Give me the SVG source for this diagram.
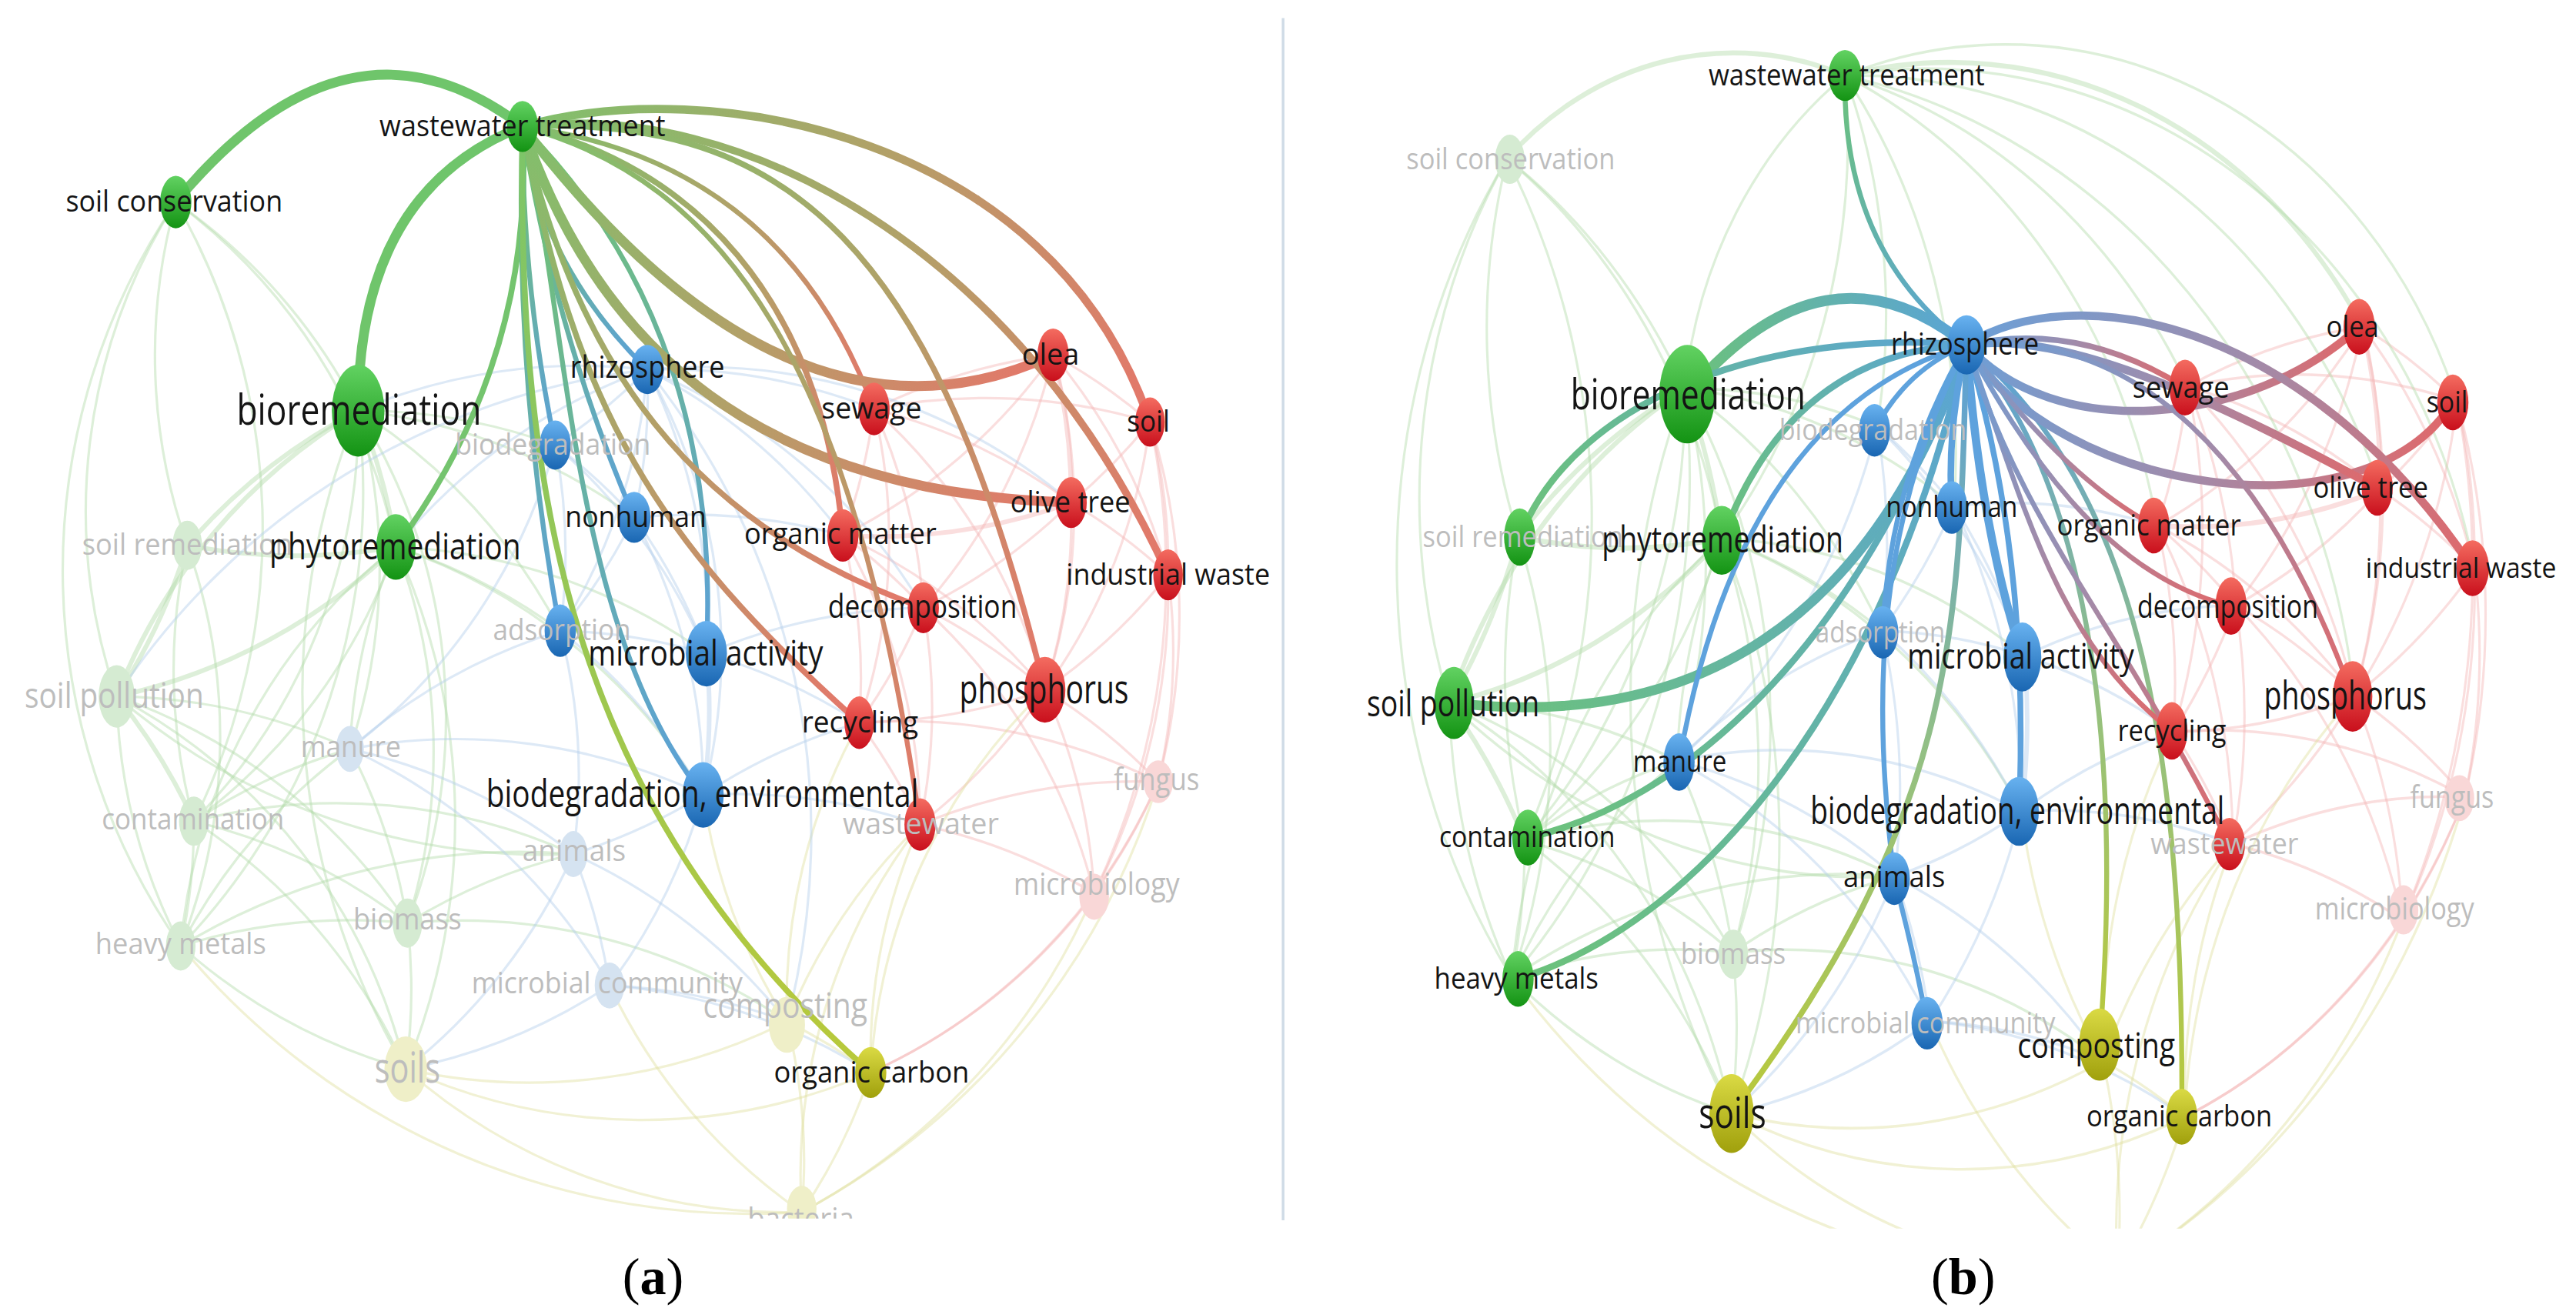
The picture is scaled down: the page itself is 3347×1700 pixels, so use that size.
<svg xmlns="http://www.w3.org/2000/svg" width="3347" height="1700" viewBox="0 0 3347 1700">
<defs>
<style>
.m path{fill:none;stroke-opacity:.45;stroke-width:1.5}
.mg{stroke:#b3dbab}.mb{stroke:#b3cfea}.mr{stroke:#f5b5b5}.my{stroke:#e0e0a0}
.m path.w2{stroke-width:2.8}
.hl path{fill:none;stroke-linecap:round}
.node text{font-family:"Open Sans","Noto Sans","DejaVu Sans",sans-serif;text-anchor:middle;fill:#141414}
.node text.f{fill:#bdbdbd}
.G{fill:url(#ng)}.B{fill:url(#nb)}.R{fill:url(#nr)}.Y{fill:url(#ny)}
.fG{fill:#d5ebd2}.fB{fill:#d5e3f1}.fR{fill:#f9d7d7}.fY{fill:#efefc8}
.cap{font-family:"Liberation Serif",serif;font-size:32px;text-anchor:middle;fill:#000}
</style>
<linearGradient id="ng" x1="0" y1="0" x2="0" y2="1"><stop offset="0" stop-color="#62d262"/><stop offset="1" stop-color="#139313"/></linearGradient>
<linearGradient id="nb" x1="0" y1="0" x2="0" y2="1"><stop offset="0" stop-color="#68b2f0"/><stop offset="1" stop-color="#1966b2"/></linearGradient>
<linearGradient id="nr" x1="0" y1="0" x2="0" y2="1"><stop offset="0" stop-color="#f46c60"/><stop offset="1" stop-color="#c90f1c"/></linearGradient>
<linearGradient id="ny" x1="0" y1="0" x2="0" y2="1"><stop offset="0" stop-color="#dada44"/><stop offset="1" stop-color="#a0a00c"/></linearGradient>
<linearGradient id="tGB"><stop offset="0" stop-color="#74c46c"/><stop offset="1" stop-color="#5ba0d9"/></linearGradient>
<linearGradient id="tGR"><stop offset="0" stop-color="#80c06c"/><stop offset=".5" stop-color="#b3a068"/><stop offset="1" stop-color="#e5766a"/></linearGradient>
<linearGradient id="tGY"><stop offset="0" stop-color="#7cc56a"/><stop offset="1" stop-color="#b9c93a"/></linearGradient>
<linearGradient id="tBG"><stop offset="0" stop-color="#5aa4d6"/><stop offset="1" stop-color="#6cc27a"/></linearGradient>
<linearGradient id="tBR"><stop offset="0" stop-color="#6d9fd6"/><stop offset=".5" stop-color="#a38aa8"/><stop offset="1" stop-color="#e0686a"/></linearGradient>
<linearGradient id="tBY"><stop offset="0" stop-color="#5b9fd9"/><stop offset=".5" stop-color="#93c084"/><stop offset="1" stop-color="#b9c93a"/></linearGradient>
<linearGradient id="a4" href="#tGB" gradientUnits="userSpaceOnUse" x1="318" y1="77" x2="394" y2="225"/>
<linearGradient id="a5" href="#tGB" gradientUnits="userSpaceOnUse" x1="318" y1="77" x2="338" y2="271"/>
<linearGradient id="a6" href="#tGB" gradientUnits="userSpaceOnUse" x1="318" y1="77" x2="386" y2="315"/>
<linearGradient id="a7" href="#tGB" gradientUnits="userSpaceOnUse" x1="318" y1="77" x2="341" y2="384"/>
<linearGradient id="a8" href="#tGB" gradientUnits="userSpaceOnUse" x1="318" y1="77" x2="430" y2="398"/>
<linearGradient id="a9" href="#tGB" gradientUnits="userSpaceOnUse" x1="318" y1="77" x2="428" y2="484"/>
<linearGradient id="a10" href="#tGY" gradientUnits="userSpaceOnUse" x1="318" y1="77" x2="530" y2="653"/>
<linearGradient id="a11" href="#tGR" gradientUnits="userSpaceOnUse" x1="318" y1="77" x2="532" y2="249"/>
<linearGradient id="a12" href="#tGR" gradientUnits="userSpaceOnUse" x1="318" y1="77" x2="641" y2="216"/>
<linearGradient id="a13" href="#tGR" gradientUnits="userSpaceOnUse" x1="318" y1="77" x2="700" y2="257"/>
<linearGradient id="a14" href="#tGR" gradientUnits="userSpaceOnUse" x1="318" y1="77" x2="652" y2="306"/>
<linearGradient id="a15" href="#tGR" gradientUnits="userSpaceOnUse" x1="318" y1="77" x2="711" y2="350"/>
<linearGradient id="a16" href="#tGR" gradientUnits="userSpaceOnUse" x1="318" y1="77" x2="513" y2="326"/>
<linearGradient id="a17" href="#tGR" gradientUnits="userSpaceOnUse" x1="318" y1="77" x2="562" y2="370"/>
<linearGradient id="a18" href="#tGR" gradientUnits="userSpaceOnUse" x1="318" y1="77" x2="636" y2="420"/>
<linearGradient id="a19" href="#tGR" gradientUnits="userSpaceOnUse" x1="318" y1="77" x2="523" y2="440"/>
<linearGradient id="a20" href="#tGR" gradientUnits="userSpaceOnUse" x1="318" y1="77" x2="560" y2="502"/>
<linearGradient id="b1" href="#tBG" gradientUnits="userSpaceOnUse" x1="1197" y1="210" x2="1123" y2="46"/>
<linearGradient id="b2" href="#tBG" gradientUnits="userSpaceOnUse" x1="1197" y1="210" x2="1027" y2="240"/>
<linearGradient id="b3" href="#tBG" gradientUnits="userSpaceOnUse" x1="1197" y1="210" x2="925" y2="327"/>
<linearGradient id="b4" href="#tBG" gradientUnits="userSpaceOnUse" x1="1197" y1="210" x2="1048" y2="329"/>
<linearGradient id="b5" href="#tBG" gradientUnits="userSpaceOnUse" x1="1197" y1="210" x2="885" y2="428"/>
<linearGradient id="b7" href="#tBG" gradientUnits="userSpaceOnUse" x1="1197" y1="210" x2="930" y2="510"/>
<linearGradient id="b8" href="#tBG" gradientUnits="userSpaceOnUse" x1="1197" y1="210" x2="924" y2="596"/>
<linearGradient id="b16" href="#tBY" gradientUnits="userSpaceOnUse" x1="1197" y1="210" x2="1054" y2="678"/>
<linearGradient id="b17" href="#tBY" gradientUnits="userSpaceOnUse" x1="1197" y1="210" x2="1278" y2="636"/>
<linearGradient id="b18" href="#tBY" gradientUnits="userSpaceOnUse" x1="1197" y1="210" x2="1328" y2="680"/>
<linearGradient id="b19" href="#tBR" gradientUnits="userSpaceOnUse" x1="1197" y1="210" x2="1330" y2="236"/>
<linearGradient id="b20" href="#tBR" gradientUnits="userSpaceOnUse" x1="1197" y1="210" x2="1436" y2="199"/>
<linearGradient id="b21" href="#tBR" gradientUnits="userSpaceOnUse" x1="1197" y1="210" x2="1493" y2="245"/>
<linearGradient id="b22" href="#tBR" gradientUnits="userSpaceOnUse" x1="1197" y1="210" x2="1447" y2="297"/>
<linearGradient id="b23" href="#tBR" gradientUnits="userSpaceOnUse" x1="1197" y1="210" x2="1311" y2="320"/>
<linearGradient id="b24" href="#tBR" gradientUnits="userSpaceOnUse" x1="1197" y1="210" x2="1505" y2="346"/>
<linearGradient id="b25" href="#tBR" gradientUnits="userSpaceOnUse" x1="1197" y1="210" x2="1358" y2="369"/>
<linearGradient id="b26" href="#tBR" gradientUnits="userSpaceOnUse" x1="1197" y1="210" x2="1322" y2="445"/>
<linearGradient id="b27" href="#tBR" gradientUnits="userSpaceOnUse" x1="1197" y1="210" x2="1357" y2="514"/>
<linearGradient id="b28" href="#tBR" gradientUnits="userSpaceOnUse" x1="1197" y1="210" x2="1432" y2="424"/>
<clipPath id="clipA" clipPathUnits="userSpaceOnUse"><rect x="12" y="0" width="766" height="742"/></clipPath>
<clipPath id="clipB" clipPathUnits="userSpaceOnUse"><rect x="822" y="0" width="760" height="748"/></clipPath>
<g id="meshC" class="m">
<g class="mg">
<path d="M107 123A350 350 0 0 1 218 250"/><path d="M114 332A350 350 0 0 1 107 123"/><path d="M71 424A350 350 0 0 1 107 123"/><path d="M107 123A350 350 0 0 1 241 333"/><path d="M110 576A400 400 0 0 1 107 123"/><path d="M107 123A400 400 0 0 1 118 500"/>
<path class="w2" d="M218 250A350 350 0 0 1 241 333"/><path class="w2" d="M114 332A350 350 0 0 1 218 250"/><path class="w2" d="M71 424A350 350 0 0 1 218 250"/><path d="M218 250A350 350 0 0 1 118 500"/><path d="M218 250A400 400 0 0 1 110 576"/><path d="M218 250A350 350 0 0 1 248 562"/><path d="M218 250A350 350 0 0 1 213 456"/><path d="M247 651A450 450 0 0 1 218 250"/>
<path class="w2" d="M241 333A350 350 0 0 1 114 332"/><path class="w2" d="M241 333A350 350 0 0 1 71 424"/><path d="M241 333A350 350 0 0 1 118 500"/><path d="M110 576A350 350 0 0 1 241 333"/><path d="M241 333A350 350 0 0 1 248 562"/><path d="M213 456A350 350 0 0 1 241 333"/><path d="M241 333A400 400 0 0 1 247 651"/>
<path class="w2" d="M114 332A350 350 0 0 1 71 424"/><path d="M118 500A350 350 0 0 1 114 332"/><path d="M114 332A350 350 0 0 1 110 576"/><path class="w2" d="M71 424A350 350 0 0 1 118 500"/><path d="M110 576A350 350 0 0 1 71 424"/><path d="M71 424A350 350 0 0 1 248 562"/><path d="M71 424A350 350 0 0 1 247 651"/>
<path d="M118 500A350 350 0 0 1 110 576"/><path d="M118 500A350 350 0 0 1 248 562"/><path d="M118 500A350 350 0 0 1 213 456"/><path d="M118 500A350 350 0 0 1 247 651"/><path d="M110 576A350 350 0 0 1 248 562"/><path d="M110 576A350 350 0 0 0 247 651"/><path d="M248 562A350 350 0 0 1 247 651"/><path d="M213 456A350 350 0 0 1 248 562"/><path d="M248 562A350 350 0 0 1 349 520"/><path d="M248 562A350 350 0 0 1 479 622"/><path d="M71 424A350 350 0 0 1 213 456"/><path d="M110 576A350 350 0 0 1 213 456"/>
<path d="M218 250A350 350 0 0 1 338 271"/><path d="M218 250A350 350 0 0 1 386 315"/><path d="M218 250A350 350 0 0 1 341 384"/><path d="M241 333A350 350 0 0 1 341 384"/><path d="M241 333A350 350 0 0 1 428 484"/><path d="M241 333A350 350 0 0 1 430 398"/><path d="M71 424A400 400 0 0 0 349 520"/><path d="M110 576A400 400 0 0 1 349 520"/><path d="M118 500A350 350 0 0 1 349 520"/>
</g>
<g class="mb">
<path d="M338 271A350 350 0 0 1 386 315"/><path d="M338 271A350 350 0 0 1 341 384"/><path d="M338 271A350 350 0 0 1 430 398"/><path d="M386 315A350 350 0 0 1 430 398"/><path d="M386 315A350 350 0 0 1 341 384"/><path d="M341 384A350 350 0 0 1 430 398"/><path d="M341 384A350 350 0 0 1 428 484"/><path class="w2" d="M430 398A350 350 0 0 1 428 484"/><path d="M428 484A350 350 0 0 1 349 520"/><path d="M428 484A350 350 0 0 1 371 600"/><path d="M349 520A350 350 0 0 1 371 600"/><path d="M213 456A350 350 0 0 1 349 520"/><path d="M213 456A350 350 0 0 1 341 384"/><path d="M341 384A350 350 0 0 1 349 520"/><path d="M213 456A350 350 0 0 1 371 600"/><path d="M371 600A350 350 0 0 1 247 651"/><path d="M371 600A350 350 0 0 1 479 622"/><path d="M428 484A350 350 0 0 1 560 502"/><path d="M430 398A350 350 0 0 1 523 440"/><path d="M386 315A350 350 0 0 1 513 326"/><path d="M430 398A350 350 0 0 1 562 370"/><path d="M428 484A350 350 0 0 1 523 440"/><path d="M213 456A350 350 0 0 1 428 484"/><path d="M338 271A350 350 0 0 1 213 456"/><path d="M386 315A350 350 0 0 1 428 484"/><path d="M349 520A350 350 0 0 1 247 651"/><path d="M371 600A350 350 0 0 1 530 653"/><path d="M349 520A350 350 0 0 1 479 622"/>
</g>
<g class="mr">
<path d="M532 249A350 350 0 0 1 641 216"/><path d="M532 249A350 350 0 0 1 700 257"/><path d="M532 249A350 350 0 0 1 513 326"/><path d="M532 249A350 350 0 0 1 562 370"/><path d="M532 249A350 350 0 0 1 652 306"/><path d="M641 216A350 350 0 0 1 700 257"/><path class="w2" d="M641 216A350 350 0 0 1 652 306"/><path d="M641 216A350 350 0 0 1 711 350"/><path d="M641 216A350 350 0 0 1 513 326"/><path d="M641 216A350 350 0 0 1 636 420"/><path d="M641 216A350 350 0 0 1 562 370"/><path d="M700 257A350 350 0 0 1 711 350"/><path d="M700 257A350 350 0 0 1 652 306"/><path d="M700 257A400 400 0 0 1 705 476"/><path d="M700 257A350 350 0 0 1 636 420"/><path d="M652 306A350 350 0 0 1 711 350"/><path class="w2" d="M652 306A350 350 0 0 1 513 326"/><path d="M652 306A350 350 0 0 1 562 370"/><path d="M652 306A350 350 0 0 1 636 420"/><path d="M513 326A350 350 0 0 1 562 370"/><path d="M513 326A350 350 0 0 1 523 440"/><path d="M513 326A350 350 0 0 1 636 420"/><path d="M711 350A350 350 0 0 1 636 420"/><path d="M711 350A350 350 0 0 1 705 476"/><path d="M711 350A400 400 0 0 1 666 544"/><path d="M562 370A350 350 0 0 1 636 420"/><path d="M562 370A350 350 0 0 1 523 440"/><path d="M562 370A350 350 0 0 1 560 502"/><path d="M636 420A350 350 0 0 1 523 440"/><path d="M636 420A350 350 0 0 1 560 502"/><path d="M636 420A350 350 0 0 1 705 476"/><path d="M636 420A350 350 0 0 1 666 544"/><path d="M523 440A350 350 0 0 1 560 502"/><path d="M560 502A350 350 0 0 1 705 476"/><path d="M560 502A350 350 0 0 1 666 544"/><path d="M705 476A350 350 0 0 1 666 544"/><path d="M532 249A350 350 0 0 1 636 420"/><path d="M532 249A350 350 0 0 1 523 440"/><path d="M700 257A450 450 0 0 1 666 544"/><path d="M666 544A350 350 0 0 1 530 653"/><path d="M705 476A350 350 0 0 1 530 653"/><path d="M562 370A350 350 0 0 1 666 544"/><path d="M523 440A350 350 0 0 1 705 476"/><path d="M513 326A350 350 0 0 1 560 502"/>
</g>
<g class="my">
<path d="M247 651A350 350 0 0 0 479 622"/><path d="M247 651A350 350 0 0 0 530 653"/><path d="M247 651A350 350 0 0 0 488 738"/><path d="M479 622A350 350 0 0 1 530 653"/><path d="M479 622A350 350 0 0 1 488 738"/><path d="M530 653A350 350 0 0 1 488 738"/><path d="M488 738A400 400 0 0 0 666 544"/><path d="M488 738A450 450 0 0 0 705 476"/><path d="M488 738A350 350 0 0 1 560 502"/><path d="M479 622A350 350 0 0 1 560 502"/><path d="M530 653A350 350 0 0 1 560 502"/><path d="M479 622A350 350 0 0 1 523 440"/><path d="M110 576A450 450 0 0 0 488 738"/><path d="M488 738A350 350 0 0 1 371 600"/><path d="M530 653A350 350 0 0 1 636 420"/><path d="M479 622A350 350 0 0 1 428 484"/>
</g>
</g>
<g id="meshRz" class="m"><g class="mb">
<path d="M394 225A350 350 0 0 1 338 271"/><path d="M394 225A350 350 0 0 1 386 315"/><path d="M394 225A350 350 0 0 1 430 398"/><path d="M394 225A350 350 0 0 1 341 384"/><path d="M218 250A350 350 0 0 1 394 225"/><path d="M394 225A350 350 0 0 1 532 249"/><path d="M394 225A350 350 0 0 1 513 326"/><path d="M394 225A350 350 0 0 1 562 370"/><path d="M394 225A350 350 0 0 1 428 484"/><path d="M71 424A450 450 0 0 1 394 225"/><path d="M241 333A350 350 0 0 1 394 225"/><path d="M394 225A350 350 0 0 1 652 306"/><path d="M394 225A450 450 0 0 1 479 622"/>
</g></g>
<g id="meshWt" class="m"><g class="mg">
<path class="w2" d="M107 123A200 200 0 0 1 318 77"/><path d="M218 250A250 250 0 0 1 318 77"/><path d="M318 77A350 350 0 0 1 241 333"/><path d="M318 77A350 350 0 0 1 532 249"/><path class="w2" d="M318 77A300 300 0 0 1 641 216"/><path d="M318 77A300 300 0 0 1 700 257"/><path d="M318 77A350 350 0 0 1 513 326"/><path d="M318 77A350 350 0 0 1 711 350"/><path d="M318 77A400 400 0 0 1 636 420"/><path d="M318 77A350 350 0 0 1 338 271"/><path d="M318 77A350 350 0 0 1 386 315"/><path d="M318 77A350 350 0 0 1 652 306"/>
</g></g>
</defs>
<rect width="3347" height="1700" fill="#ffffff"/>
<g transform="scale(2.1346)">
<line x1="781" y1="11" x2="781" y2="743" stroke="#cfdbe6" stroke-width="1.6"/>
<text class="cap" x="397.5" y="788">(<tspan font-weight="bold">a</tspan>)</text>
<text class="cap" x="1195" y="788">(<tspan font-weight="bold">b</tspan>)</text>

<g id="panel-a" clip-path="url(#clipA)">
<g id="a-mesh"><use href="#meshC"/><use href="#meshRz"/></g>
<g id="a-links" class="hl">
<path d="M318 77Q212 -4 107 123" stroke="#6fc56b" stroke-width="6"/>
<path d="M318 77Q218 116 218 250" stroke="#6fc56b" stroke-width="6"/>
<path d="M318 77Q326 219 241 333" stroke="#74c46e" stroke-width="3.5"/>
<path d="M318 77Q328 160 394 225" stroke="url(#a4)" stroke-width="3"/>
<path d="M318 77Q318 175 338 271" stroke="url(#a5)" stroke-width="3"/>
<path d="M318 77Q338 204 386 315" stroke="url(#a6)" stroke-width="3"/>
<path d="M318 77Q313 235 341 384" stroke="url(#a7)" stroke-width="3"/>
<path d="M318 77Q440 200 430 398" stroke="url(#a8)" stroke-width="3"/>
<path d="M318 77C345 180 345 380 428 484" stroke="url(#a9)" stroke-width="3"/>
<path d="M318 77C315 300 345 490 530 653" stroke="url(#a10)" stroke-width="3.5"/>
<path d="M318 77Q476 98 532 249" stroke="url(#a11)" stroke-width="3"/>
<path d="M318 77Q481 290 641 216" stroke="url(#a12)" stroke-width="6"/>
<path d="M318 77C430 45 640 80 700 257" stroke="url(#a13)" stroke-width="5"/>
<path d="M318 77C360 200 450 300 652 306" stroke="url(#a14)" stroke-width="6"/>
<path d="M318 77C450 60 620 150 711 350" stroke="url(#a15)" stroke-width="4.5"/>
<path d="M318 77C420 100 500 180 513 326" stroke="url(#a16)" stroke-width="3.5"/>
<path d="M318 77C350 220 420 320 562 370" stroke="url(#a17)" stroke-width="3.5"/>
<path d="M318 77C480 70 570 150 636 420" stroke="url(#a18)" stroke-width="3.5"/>
<path d="M318 77C350 250 400 330 523 440" stroke="url(#a19)" stroke-width="3.5"/>
<path d="M318 77C440 110 520 220 560 502" stroke="url(#a20)" stroke-width="3"/>
</g>
<g id="a-nodes">
<g id="a-sr" class="node"><ellipse cx="114" cy="332" rx="9" ry="15" class="fG"/><text class="f" x="114" y="338" font-size="18" textLength="128" lengthAdjust="spacingAndGlyphs">soil remediation</text></g>
<g id="a-sp" class="node"><ellipse cx="71" cy="424" rx="11" ry="19" class="fG"/><text class="f" x="69.5" y="431" font-size="21" textLength="109" lengthAdjust="spacingAndGlyphs">soil pollution</text></g>
<g id="a-ct" class="node"><ellipse cx="118" cy="500" rx="9" ry="15" class="fG"/><text class="f" x="117.5" y="505" font-size="18" textLength="111" lengthAdjust="spacingAndGlyphs">contamination</text></g>
<g id="a-hm" class="node"><ellipse cx="110" cy="576" rx="9" ry="15" class="fG"/><text class="f" x="110" y="581" font-size="18" textLength="104" lengthAdjust="spacingAndGlyphs">heavy metals</text></g>
<g id="a-bm" class="node"><ellipse cx="248" cy="562" rx="9" ry="15" class="fG"/><text class="f" x="248" y="566" font-size="18" textLength="66" lengthAdjust="spacingAndGlyphs">biomass</text></g>
<g id="a-mn" class="node"><ellipse cx="213" cy="456" rx="8.5" ry="14" class="fB"/><text class="f" x="213.5" y="461" font-size="18" textLength="61" lengthAdjust="spacingAndGlyphs">manure</text></g>
<g id="a-an" class="node"><ellipse cx="349" cy="520" rx="8.5" ry="14" class="fB"/><text class="f" x="349.5" y="524" font-size="18" textLength="63" lengthAdjust="spacingAndGlyphs">animals</text></g>
<g id="a-mc" class="node"><ellipse cx="371" cy="600" rx="9" ry="14" class="fB"/><text class="f" x="369.5" y="605" font-size="18" textLength="165" lengthAdjust="spacingAndGlyphs">microbial community</text></g>
<g id="a-fg" class="node"><ellipse cx="705" cy="476" rx="9" ry="13" class="fR"/><text class="f" x="704" y="481" font-size="19" textLength="52" lengthAdjust="spacingAndGlyphs">fungus</text></g>
<g id="a-mb" class="node"><ellipse cx="666" cy="546" rx="9" ry="14" class="fR"/><text class="f" x="667.5" y="545" font-size="19" textLength="101" lengthAdjust="spacingAndGlyphs">microbiology</text></g>
<g id="a-sl" class="node"><ellipse cx="247" cy="651" rx="13" ry="20" class="fY"/><text class="f" x="248" y="659" font-size="26" textLength="40" lengthAdjust="spacingAndGlyphs">soils</text></g>
<g id="a-cp" class="node"><ellipse cx="479" cy="624" rx="11" ry="17" class="fY"/><text class="f" x="478" y="620" font-size="21" textLength="100" lengthAdjust="spacingAndGlyphs">composting</text></g>
<g id="a-ba" class="node"><ellipse cx="488" cy="736" rx="9" ry="14" class="fY"/><text class="f" x="487.5" y="748" font-size="18" textLength="65" lengthAdjust="spacingAndGlyphs">bacteria</text></g>
<g id="a-bd" class="node"><ellipse cx="338" cy="271" rx="9.5" ry="15" class="B"/><text class="f" x="336.5" y="277" font-size="18" textLength="119" lengthAdjust="spacingAndGlyphs">biodegradation</text></g>
<g id="a-ad" class="node"><ellipse cx="341" cy="384" rx="9.5" ry="16" class="B"/><text class="f" x="342" y="390" font-size="18" textLength="84" lengthAdjust="spacingAndGlyphs">adsorption</text></g>
<g id="a-ww" class="node"><ellipse cx="560" cy="502" rx="9.5" ry="16" class="R"/><text class="f" x="560.5" y="508" font-size="18" textLength="95" lengthAdjust="spacingAndGlyphs">wastewater</text></g>
<g id="a-wt" class="node"><ellipse cx="318" cy="77" rx="9.5" ry="15.5" class="G"/><text x="318" y="83" font-size="18" textLength="174" lengthAdjust="spacingAndGlyphs">wastewater treatment</text></g>
<g id="a-sc" class="node"><ellipse cx="107" cy="123" rx="9.5" ry="16" class="G"/><text x="106" y="129" font-size="18" textLength="132" lengthAdjust="spacingAndGlyphs">soil conservation</text></g>
<g id="a-br" class="node"><ellipse cx="218" cy="250" rx="16" ry="28" class="G"/><text x="218.5" y="258.5" font-size="26" textLength="149" lengthAdjust="spacingAndGlyphs">bioremediation</text></g>
<g id="a-ph" class="node"><ellipse cx="241" cy="333" rx="12" ry="20" class="G"/><text x="240.5" y="340.5" font-size="22" textLength="153" lengthAdjust="spacingAndGlyphs">phytoremediation</text></g>
<g id="a-rz" class="node"><ellipse cx="394" cy="225" rx="10" ry="15" class="B"/><text x="394" y="230" font-size="19" textLength="94" lengthAdjust="spacingAndGlyphs">rhizosphere</text></g>
<g id="a-nh" class="node"><ellipse cx="386" cy="315" rx="10" ry="15.5" class="B"/><text x="387" y="321" font-size="18" textLength="86" lengthAdjust="spacingAndGlyphs">nonhuman</text></g>
<g id="a-ma" class="node"><ellipse cx="430" cy="398" rx="12.5" ry="20" class="B"/><text x="429.5" y="405" font-size="21" textLength="143" lengthAdjust="spacingAndGlyphs">microbial activity</text></g>
<g id="a-be" class="node"><ellipse cx="428" cy="484" rx="12.5" ry="20" class="B"/><text x="427.5" y="491.5" font-size="23" textLength="263" lengthAdjust="spacingAndGlyphs">biodegradation, environmental</text></g>
<g id="a-sw" class="node"><ellipse cx="532" cy="249" rx="9.5" ry="16" class="R"/><text x="530.5" y="255" font-size="18" textLength="61" lengthAdjust="spacingAndGlyphs">sewage</text></g>
<g id="a-ol" class="node"><ellipse cx="641" cy="216" rx="9.5" ry="16" class="R"/><text x="639.5" y="222" font-size="18" textLength="35" lengthAdjust="spacingAndGlyphs">olea</text></g>
<g id="a-so" class="node"><ellipse cx="700" cy="257" rx="9" ry="15" class="R"/><text x="699" y="263" font-size="18" textLength="26" lengthAdjust="spacingAndGlyphs">soil</text></g>
<g id="a-ot" class="node"><ellipse cx="652" cy="306" rx="9.5" ry="15.5" class="R"/><text x="651.5" y="312" font-size="18" textLength="73" lengthAdjust="spacingAndGlyphs">olive tree</text></g>
<g id="a-om" class="node"><ellipse cx="513" cy="326" rx="9.5" ry="16" class="R"/><text x="511.5" y="331" font-size="18" textLength="117" lengthAdjust="spacingAndGlyphs">organic matter</text></g>
<g id="a-iw" class="node"><ellipse cx="711" cy="350" rx="9" ry="15.5" class="R"/><text x="711" y="356" font-size="18" textLength="124" lengthAdjust="spacingAndGlyphs">industrial waste</text></g>
<g id="a-dc" class="node"><ellipse cx="562" cy="370" rx="9.5" ry="15.5" class="R"/><text x="561.5" y="376" font-size="20" textLength="115" lengthAdjust="spacingAndGlyphs">decomposition</text></g>
<g id="a-pp" class="node"><ellipse cx="636" cy="420" rx="12.5" ry="20" class="R"/><text x="635.5" y="428" font-size="24" textLength="103" lengthAdjust="spacingAndGlyphs">phosphorus</text></g>
<g id="a-rc" class="node"><ellipse cx="523" cy="440" rx="9" ry="16" class="R"/><text x="523.5" y="446" font-size="18" textLength="71" lengthAdjust="spacingAndGlyphs">recycling</text></g>
<g id="a-oc" class="node"><ellipse cx="530" cy="653" rx="9.5" ry="15.5" class="Y"/><text x="530.5" y="659" font-size="18" textLength="119" lengthAdjust="spacingAndGlyphs">organic carbon</text></g>
</g>
</g>

<g id="panel-b" clip-path="url(#clipB)">
<g id="b-mesh"><use href="#meshC" transform="matrix(0.975 0 0 1.101 813 -38.8)"/><use href="#meshWt" transform="matrix(0.975 0 0 1.101 813 -38.8)"/></g>
<g id="b-links" class="hl">
<path d="M1123 46Q1121 153 1197 210" stroke="url(#b1)" stroke-width="3"/>
<path d="M1027 240Q1111 141 1197 210" stroke="url(#b2)" stroke-width="6.5"/>
<path d="M925 327C960 240 1080 200 1197 210" stroke="url(#b3)" stroke-width="4"/>
<path d="M1048 329Q1090 215 1197 210" stroke="url(#b4)" stroke-width="4"/>
<path d="M885 428C1030 445 1140 380 1197 210" stroke="url(#b5)" stroke-width="6"/>
<path d="M930 510C1020 490 1130 400 1197 210" stroke="url(#b7)" stroke-width="4"/>
<path d="M924 596C1040 560 1150 420 1197 210" stroke="url(#b8)" stroke-width="4"/>
<path d="M1022 464Q1060 250 1197 210" stroke="#5ea2dd" stroke-width="3"/>
<path d="M1197 210Q1160 225 1141 262" stroke="#5ea2dd" stroke-width="3"/>
<path d="M1197 210Q1185 260 1188 309" stroke="#5ea2dd" stroke-width="4"/>
<path d="M1197 210Q1150 290 1146 385" stroke="#5ea2dd" stroke-width="3"/>
<path d="M1197 210Q1205 320 1231 400" stroke="#5ea2dd" stroke-width="5"/>
<path d="M1197 210C1230 320 1232 420 1229 494" stroke="#5ea2dd" stroke-width="3.5"/>
<path d="M1197 210C1140 320 1140 430 1153 535" stroke="#5ea2dd" stroke-width="3"/>
<path d="M1153 535Q1165 580 1173 623" stroke="#5ea2dd" stroke-width="3"/>
<path d="M1197 210C1192 380 1195 490 1054 678" stroke="url(#b16)" stroke-width="3.5"/>
<path d="M1197 210C1260 280 1295 420 1278 636" stroke="url(#b17)" stroke-width="3"/>
<path d="M1197 210C1290 290 1330 420 1328 680" stroke="url(#b18)" stroke-width="3"/>
<path d="M1197 210Q1265 195 1330 236" stroke="url(#b19)" stroke-width="3.5"/>
<path d="M1197 210C1250 270 1370 260 1436 199" stroke="url(#b20)" stroke-width="5"/>
<path d="M1197 210C1250 300 1440 330 1493 245" stroke="url(#b21)" stroke-width="5"/>
<path d="M1197 210C1260 200 1360 250 1447 297" stroke="url(#b22)" stroke-width="5"/>
<path d="M1197 210Q1255 290 1311 320" stroke="url(#b23)" stroke-width="3"/>
<path d="M1197 210C1260 170 1400 190 1505 346" stroke="url(#b24)" stroke-width="5"/>
<path d="M1197 210C1230 270 1280 350 1358 369" stroke="url(#b25)" stroke-width="3"/>
<path d="M1197 210C1230 300 1250 390 1322 445" stroke="url(#b26)" stroke-width="3"/>
<path d="M1197 210C1230 320 1290 380 1357 514" stroke="url(#b27)" stroke-width="3"/>
<path d="M1197 210C1300 200 1380 280 1432 424" stroke="url(#b28)" stroke-width="3"/>
</g>
<g id="b-nodes">
<g id="b-sc" class="node"><ellipse cx="919" cy="97" rx="9" ry="15" class="fG"/><text class="f" x="919.5" y="103" font-size="18" textLength="127" lengthAdjust="spacingAndGlyphs">soil conservation</text></g>
<g id="b-fg" class="node"><ellipse cx="1497" cy="486" rx="9" ry="14" class="fR"/><text class="f" x="1492.5" y="492" font-size="19" textLength="51" lengthAdjust="spacingAndGlyphs">fungus</text></g>
<g id="b-mb" class="node"><ellipse cx="1463" cy="554" rx="9" ry="15" class="fR"/><text class="f" x="1457.5" y="560" font-size="19" textLength="97" lengthAdjust="spacingAndGlyphs">microbiology</text></g>
<g id="b-bm" class="node"><ellipse cx="1055" cy="581" rx="9" ry="15" class="fG"/><text class="f" x="1055" y="587" font-size="18" textLength="64" lengthAdjust="spacingAndGlyphs">biomass</text></g>
<g id="b-sr" class="node"><ellipse cx="925" cy="327" rx="9.5" ry="17.5" class="G"/><text class="f" x="927" y="333" font-size="18" textLength="122" lengthAdjust="spacingAndGlyphs">soil remediation</text></g>
<g id="b-bd" class="node"><ellipse cx="1141" cy="262" rx="9.5" ry="16" class="B"/><text class="f" x="1140" y="268" font-size="18" textLength="114" lengthAdjust="spacingAndGlyphs">biodegradation</text></g>
<g id="b-ad" class="node"><ellipse cx="1146" cy="385" rx="9.5" ry="16" class="B"/><text class="f" x="1144.5" y="391" font-size="18" textLength="79" lengthAdjust="spacingAndGlyphs">adsorption</text></g>
<g id="b-ww" class="node"><ellipse cx="1357" cy="514" rx="9.5" ry="16" class="R"/><text class="f" x="1354" y="520" font-size="18" textLength="90" lengthAdjust="spacingAndGlyphs">wastewater</text></g>
<g id="b-mc" class="node"><ellipse cx="1173" cy="623" rx="9.5" ry="16" class="B"/><text class="f" x="1172" y="629" font-size="18" textLength="158" lengthAdjust="spacingAndGlyphs">microbial community</text></g>
<g id="b-wt" class="node"><ellipse cx="1123" cy="46" rx="10" ry="15.5" class="G"/><text x="1124" y="52" font-size="18" textLength="168" lengthAdjust="spacingAndGlyphs">wastewater treatment</text></g>
<g id="b-br" class="node"><ellipse cx="1027" cy="240" rx="17" ry="30" class="G"/><text x="1027.5" y="249" font-size="26" textLength="143" lengthAdjust="spacingAndGlyphs">bioremediation</text></g>
<g id="b-ph" class="node"><ellipse cx="1048" cy="329" rx="12" ry="21" class="G"/><text x="1048.5" y="336.5" font-size="22" textLength="147" lengthAdjust="spacingAndGlyphs">phytoremediation</text></g>
<g id="b-sp" class="node"><ellipse cx="885" cy="428" rx="12" ry="22" class="G"/><text x="884.5" y="436" font-size="22" textLength="105" lengthAdjust="spacingAndGlyphs">soil pollution</text></g>
<g id="b-ct" class="node"><ellipse cx="930" cy="510" rx="9.5" ry="17" class="G"/><text x="929.5" y="516" font-size="18" textLength="107" lengthAdjust="spacingAndGlyphs">contamination</text></g>
<g id="b-hm" class="node"><ellipse cx="924" cy="596" rx="9.5" ry="17" class="G"/><text x="923" y="602" font-size="18" textLength="100" lengthAdjust="spacingAndGlyphs">heavy metals</text></g>
<g id="b-mn" class="node"><ellipse cx="1022" cy="464" rx="9.5" ry="17.5" class="B"/><text x="1022.5" y="470" font-size="18" textLength="57" lengthAdjust="spacingAndGlyphs">manure</text></g>
<g id="b-rz" class="node"><ellipse cx="1197" cy="210" rx="11.5" ry="18" class="B"/><text x="1196" y="216" font-size="19" textLength="90" lengthAdjust="spacingAndGlyphs">rhizosphere</text></g>
<g id="b-nh" class="node"><ellipse cx="1188" cy="309" rx="9.5" ry="16" class="B"/><text x="1188" y="315" font-size="18" textLength="80" lengthAdjust="spacingAndGlyphs">nonhuman</text></g>
<g id="b-ma" class="node"><ellipse cx="1231" cy="400" rx="11.5" ry="21" class="B"/><text x="1230" y="407" font-size="21" textLength="138" lengthAdjust="spacingAndGlyphs">microbial activity</text></g>
<g id="b-be" class="node"><ellipse cx="1229" cy="494" rx="12" ry="21" class="B"/><text x="1228" y="501.5" font-size="23" textLength="252" lengthAdjust="spacingAndGlyphs">biodegradation, environmental</text></g>
<g id="b-an" class="node"><ellipse cx="1153" cy="535" rx="9.5" ry="16" class="B"/><text x="1153" y="540" font-size="18" textLength="62" lengthAdjust="spacingAndGlyphs">animals</text></g>
<g id="b-om" class="node"><ellipse cx="1311" cy="320" rx="9.5" ry="17" class="R"/><text x="1308" y="326" font-size="18" textLength="112" lengthAdjust="spacingAndGlyphs">organic matter</text></g>
<g id="b-sw" class="node"><ellipse cx="1330" cy="236" rx="9.5" ry="17" class="R"/><text x="1327.5" y="242" font-size="18" textLength="59" lengthAdjust="spacingAndGlyphs">sewage</text></g>
<g id="b-ol" class="node"><ellipse cx="1436" cy="199" rx="9.5" ry="17" class="R"/><text x="1432" y="205" font-size="18" textLength="32" lengthAdjust="spacingAndGlyphs">olea</text></g>
<g id="b-so" class="node"><ellipse cx="1493" cy="245" rx="9.5" ry="17" class="R"/><text x="1489.5" y="251" font-size="18" textLength="25" lengthAdjust="spacingAndGlyphs">soil</text></g>
<g id="b-ot" class="node"><ellipse cx="1447" cy="297" rx="9.5" ry="17" class="R"/><text x="1443" y="303" font-size="18" textLength="70" lengthAdjust="spacingAndGlyphs">olive tree</text></g>
<g id="b-iw" class="node"><ellipse cx="1505" cy="346" rx="10" ry="17" class="R"/><text x="1498" y="352" font-size="17" textLength="116" lengthAdjust="spacingAndGlyphs">industrial waste</text></g>
<g id="b-dc" class="node"><ellipse cx="1358" cy="369" rx="9.5" ry="17.5" class="R"/><text x="1356" y="376" font-size="20" textLength="110" lengthAdjust="spacingAndGlyphs">decomposition</text></g>
<g id="b-pp" class="node"><ellipse cx="1432" cy="424" rx="12" ry="21.5" class="R"/><text x="1427.5" y="432" font-size="24" textLength="99" lengthAdjust="spacingAndGlyphs">phosphorus</text></g>
<g id="b-rc" class="node"><ellipse cx="1322" cy="445" rx="9.5" ry="17.5" class="R"/><text x="1322" y="451" font-size="18" textLength="66" lengthAdjust="spacingAndGlyphs">recycling</text></g>
<g id="b-cp" class="node"><ellipse cx="1278" cy="636" rx="12.5" ry="22" class="Y"/><text x="1276" y="644" font-size="21" textLength="96" lengthAdjust="spacingAndGlyphs">composting</text></g>
<g id="b-sl" class="node"><ellipse cx="1054" cy="678" rx="13.5" ry="24" class="Y"/><text x="1054.5" y="687" font-size="26" textLength="41" lengthAdjust="spacingAndGlyphs">soils</text></g>
<g id="b-oc" class="node"><ellipse cx="1328" cy="680" rx="9.5" ry="17" class="Y"/><text x="1326.5" y="686" font-size="18" textLength="113" lengthAdjust="spacingAndGlyphs">organic carbon</text></g>
</g>
</g>
</g>
</svg>
